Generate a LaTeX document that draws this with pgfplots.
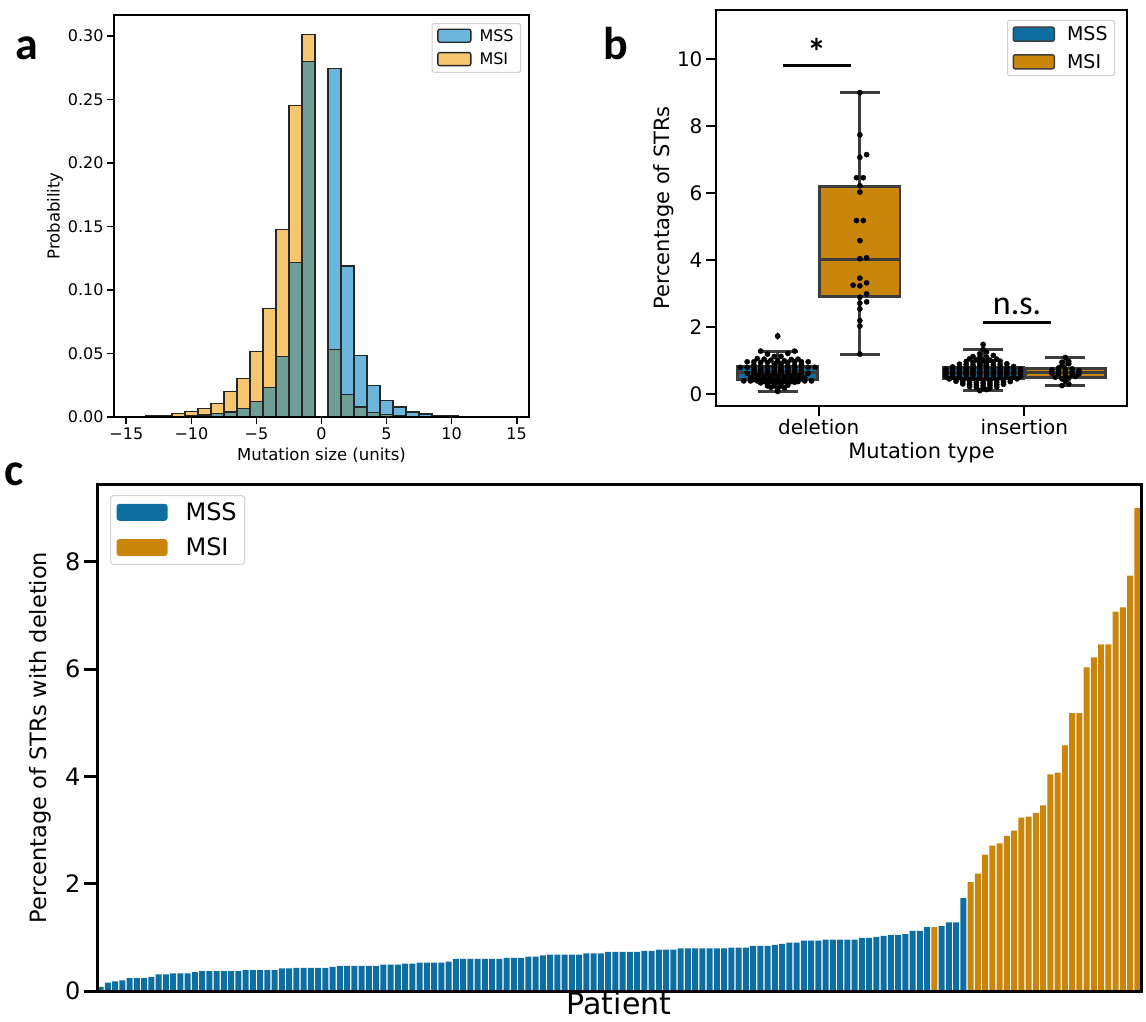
\documentclass[border=0pt]{standalone}
\usepackage{fontspec}
\setmainfont{DejaVu Sans}
\newfontfamily\carlito{Carlito}
\usepackage{pgfplots}
\pgfplotsset{compat=1.18}
\usepgfplotslibrary{statistics}
\usepackage{pgfplotstable}

\definecolor{mssL}{HTML}{6CB6DC}
\definecolor{msiL}{HTML}{F6C671}
\definecolor{ovl}{HTML}{6E9E96}
\definecolor{mssD}{HTML}{0E6EA2}
\definecolor{msiD}{HTML}{CA860A}
\definecolor{boxgray}{HTML}{3D3D3D}
\definecolor{edge}{HTML}{262626}

\newcommand{\fs}[1]{\fontsize{#1}{#1}\selectfont}
\pgfplotsset{/pgf/number format/assume math mode=true}

% panel a: histogram (bin centre, probability)
\pgfplotstableread{
x msi mss ovl
-15 0.0000 0.0001 0.0000
-14 0.0003 0.0002 0.0002
-13 0.0008 0.0003 0.0003
-12 0.0013 0.0004 0.0004
-11 0.0029 0.0006 0.0006
-10 0.0042 0.0009 0.0009
-9  0.0068 0.0017 0.0017
-8  0.0105 0.0027 0.0027
-7  0.0202 0.0040 0.0040
-6  0.0301 0.0069 0.0069
-5  0.0514 0.0121 0.0121
-4  0.0857 0.0233 0.0233
-3  0.1476 0.0477 0.0477
-2  0.2454 0.1216 0.1216
-1  0.3015 0.2798 0.2798
1   0.0529 0.2743 0.0529
2   0.0178 0.1190 0.0178
3   0.0079 0.0482 0.0079
4   0.0037 0.0246 0.0037
5   0.0018 0.0131 0.0018
6   0.0010 0.0079 0.0010
7   0.0005 0.0039 0.0005
8   0.0003 0.0024 0.0003
9   0.0002 0.0010 0.0002
10  0.0002 0.0008 0.0002
11  0.0001 0.0005 0.0001
12  0.0000 0.0002 0.0000
13  0.0000 0.0001 0.0000
14  0.0000 0.0001 0.0000
}\histdata

% panel c: per-patient deletion percentage
\pgfplotstableread[row sep=\\]{
x y\\
0 0.075\\ 1 0.155\\ 2 0.18\\ 3 0.20\\ 4 0.24\\ 5 0.24\\ 6 0.24\\ 7 0.26\\ 8 0.31\\ 9 0.31\\
10 0.33\\ 11 0.33\\ 12 0.33\\ 13 0.35\\ 14 0.37\\ 15 0.37\\ 16 0.37\\ 17 0.37\\ 18 0.37\\ 19 0.37\\
20 0.39\\ 21 0.39\\ 22 0.39\\ 23 0.39\\ 24 0.39\\ 25 0.42\\ 26 0.42\\ 27 0.43\\ 28 0.43\\ 29 0.43\\
30 0.43\\ 31 0.43\\ 32 0.45\\ 33 0.47\\ 34 0.47\\ 35 0.47\\ 36 0.47\\ 37 0.47\\ 38 0.47\\ 39 0.49\\
40 0.49\\ 41 0.49\\ 42 0.51\\ 43 0.51\\ 44 0.53\\ 45 0.53\\ 46 0.53\\ 47 0.53\\ 48 0.55\\ 49 0.60\\
50 0.60\\ 51 0.60\\ 52 0.60\\ 53 0.60\\ 54 0.60\\ 55 0.60\\ 56 0.62\\ 57 0.62\\ 58 0.62\\ 59 0.64\\
60 0.64\\ 61 0.665\\ 62 0.68\\ 63 0.68\\ 64 0.68\\ 65 0.68\\ 66 0.68\\ 67 0.70\\ 68 0.70\\ 69 0.70\\
70 0.73\\ 71 0.73\\ 72 0.73\\ 73 0.73\\ 74 0.73\\ 75 0.75\\ 76 0.75\\ 77 0.77\\ 78 0.77\\ 79 0.77\\
80 0.795\\ 81 0.795\\ 82 0.795\\ 83 0.795\\ 84 0.795\\ 85 0.795\\ 86 0.795\\ 87 0.81\\ 88 0.81\\ 89 0.81\\
90 0.84\\ 91 0.84\\ 92 0.84\\ 93 0.86\\ 94 0.88\\ 95 0.90\\ 96 0.90\\ 97 0.94\\ 98 0.94\\ 99 0.94\\
100 0.96\\ 101 0.96\\ 102 0.96\\ 103 0.96\\ 104 0.96\\ 105 0.99\\ 106 0.99\\ 107 1.01\\ 108 1.03\\ 109 1.04\\
110 1.04\\ 111 1.06\\ 112 1.12\\ 113 1.12\\ 114 1.19\\ 116 1.21\\ 117 1.28\\ 118 1.28\\ 119 1.73\\
}\patMSS
\pgfplotstableread[row sep=\\]{
x y\\
115 1.19\\ 120 2.03\\ 121 2.19\\ 122 2.54\\ 123 2.71\\ 124 2.75\\ 125 2.89\\ 126 2.99\\ 127 3.23\\
128 3.25\\ 129 3.32\\ 130 3.46\\ 131 4.04\\ 132 4.07\\ 133 4.58\\ 134 5.18\\ 135 5.18\\ 136 6.03\\
137 6.22\\ 138 6.46\\ 139 6.46\\ 140 7.07\\ 141 7.15\\ 142 7.74\\ 143 9.00\\
}\patMSI

% panel b: swarm points (k = sideways slot, y = percentage)
\pgfplotstableread[row sep=\\]{
k y\\
0 0.075\\
0 0.155\\ 1 0.18\\ -1 0.20\\
-0.5 0.24\\ 0.5 0.24\\ -1.5 0.24\\ 1.5 0.26\\
-0.5 0.31\\ 0.5 0.31\\ -1.5 0.33\\ 1.5 0.33\\ -2.5 0.33\\ 2.5 0.35\\
0 0.37\\ 1 0.37\\ -1 0.37\\ 2 0.37\\ -2 0.37\\ 3 0.37\\ -3 0.39\\ 4 0.39\\ -4 0.39\\ 5 0.39\\ -5 0.39\\
-0.5 0.42\\ 0.5 0.42\\ -1.5 0.43\\ 1.5 0.43\\ -2.5 0.43\\ 2.5 0.43\\ -3.5 0.43\\ 3.5 0.45\\
0 0.47\\ 1 0.47\\ -1 0.47\\ 2 0.47\\ -2 0.47\\ 3 0.47\\ -3 0.49\\ 4 0.49\\ -4 0.49\\
0 0.51\\ 1 0.51\\ -1 0.53\\ 2 0.53\\ -2 0.53\\ 3 0.53\\ -3 0.55\\
-0.5 0.60\\ 0.5 0.60\\ -1.5 0.60\\ 1.5 0.60\\ -2.5 0.60\\ 2.5 0.60\\ -3.5 0.60\\ 3.5 0.62\\ -4.5 0.62\\ 4.5 0.62\\
-0.5 0.64\\ 0.5 0.64\\ -1.5 0.665\\ 1.5 0.68\\ -2.5 0.68\\ 2.5 0.68\\ -3.5 0.68\\ 3.5 0.68\\
-0.5 0.70\\ 0.5 0.70\\ -1.5 0.70\\ 1.5 0.73\\ -2.5 0.73\\ 2.5 0.73\\ -3.5 0.73\\ 3.5 0.73\\
-0.5 0.75\\ 0.5 0.75\\ -1.5 0.77\\ 1.5 0.77\\ -2.5 0.77\\ 2.5 0.795\\ -3.5 0.795\\ 3.5 0.795\\ -4.5 0.795\\ 4.5 0.795\\ -5.5 0.795\\ 5.5 0.795\\
-0.5 0.81\\ 0.5 0.81\\ -1.5 0.81\\ 1.5 0.84\\ -2.5 0.84\\ 2.5 0.84\\ -3.5 0.86\\ 3.5 0.88\\
-0.5 0.90\\ 0.5 0.90\\ -1.5 0.94\\ 1.5 0.94\\ -2.5 0.94\\ 2.5 0.96\\ -3.5 0.96\\ 3.5 0.96\\ -4.5 0.96\\ 4.5 0.96\\
0 0.99\\ 1 0.99\\ -1 1.01\\ 2 1.03\\ -2 1.04\\ 3 1.04\\ -3 1.06\\
-0.5 1.12\\ 0.5 1.12\\ -1.5 1.19\\ 1.5 1.21\\ -2.5 1.28\\ 2.5 1.28\\
0 1.73\\
}\swMSSdel
\pgfplotstableread[row sep=\\]{
k y\\
0 1.19\\ 0 2.03\\ 0 2.19\\ 0 2.54\\ 0 2.71\\ 1 2.75\\ 0 2.89\\ 1 2.99\\ 0 3.23\\ -1 3.25\\
1 3.32\\ 0 3.46\\ 0 4.04\\ 1 4.07\\ 0 4.58\\ -0.5 5.18\\ 0.5 5.18\\ 0 6.03\\ 0 6.22\\
-0.5 6.46\\ 0.5 6.46\\ 0 7.07\\ 1 7.15\\ 0 7.74\\ 0 9.00\\
}\swMSIdel
\pgfplotstableread[row sep=\\]{
k y\\
-0.5 0.10\\ 0.5 0.13\\
0 0.17\\ 1 0.18\\ -1 0.20\\ 2 0.21\\ -2 0.22\\
0 0.25\\ 1 0.26\\ -1 0.27\\ 2 0.28\\ -2 0.28\\ 3 0.29\\ -3 0.30\\
0 0.33\\ 1 0.33\\ -1 0.34\\ 2 0.35\\ -2 0.35\\ 3 0.36\\ -3 0.37\\ 4 0.37\\ -4 0.38\\
0 0.40\\ 1 0.40\\ -1 0.41\\ 2 0.42\\ -2 0.42\\ 3 0.43\\ -3 0.43\\ 4 0.44\\ -4 0.44\\ 5 0.45\\ -5 0.45\\
-0.5 0.47\\ 0.5 0.47\\ -1.5 0.47\\ 1.5 0.48\\ -2.5 0.48\\ 2.5 0.49\\ -3.5 0.49\\ 3.5 0.50\\ -4.5 0.50\\ 4.5 0.51\\ -5.5 0.52\\ 5.5 0.52\\
-0.5 0.55\\ 0.5 0.55\\ -1.5 0.56\\ 1.5 0.56\\ -2.5 0.57\\ 2.5 0.57\\ -3.5 0.58\\ 3.5 0.58\\ -4.5 0.59\\ 4.5 0.59\\ -5.5 0.60\\ 5.5 0.60\\
-0.5 0.62\\ 0.5 0.62\\ -1.5 0.63\\ 1.5 0.63\\ -2.5 0.64\\ 2.5 0.64\\ -3.5 0.65\\ 3.5 0.65\\ -4.5 0.66\\ 4.5 0.66\\ -5.5 0.67\\ 5.5 0.67\\
-0.5 0.70\\ 0.5 0.70\\ -1.5 0.71\\ 1.5 0.71\\ -2.5 0.72\\ 2.5 0.72\\ -3.5 0.73\\ 3.5 0.73\\ -4.5 0.74\\ 4.5 0.74\\ -5.5 0.75\\ 5.5 0.75\\
-0.5 0.77\\ 0.5 0.77\\ -1.5 0.78\\ 1.5 0.78\\ -2.5 0.79\\ 2.5 0.79\\ -3.5 0.80\\ 3.5 0.80\\ -4.5 0.81\\ 4.5 0.82\\
-0.5 0.85\\ 0.5 0.86\\ -1.5 0.86\\ 1.5 0.87\\ -2.5 0.88\\ 2.5 0.88\\ -3.5 0.89\\ 3.5 0.90\\
-0.5 0.93\\ 0.5 0.94\\ -1.5 0.95\\ 1.5 0.96\\ -2.5 0.97\\ 2.5 0.98\\
0 1.00\\ 1 1.01\\ -1 1.02\\ 2 1.04\\ -2 1.05\\
-0.5 1.08\\ 0.5 1.10\\ -1.5 1.12\\ 1.5 1.15\\
-0.5 1.20\\ 0.5 1.25\\
0 1.33\\ 0 1.48\\
}\swMSSins
\pgfplotstableread[row sep=\\]{
k y\\
-0.5 0.25\\ 0.5 0.30\\ 0 0.38\\ -0.5 0.45\\ 0.5 0.47\\ -1.5 0.50\\ 1.5 0.52\\ 0 0.55\\ 1 0.57\\
-1 0.58\\ 2 0.60\\ -2 0.62\\ 0 0.65\\ 1 0.66\\ -1 0.68\\ 2 0.70\\ -2 0.72\\ 0 0.74\\ 1 0.75\\
-1 0.78\\ -0.5 0.85\\ 0.5 0.90\\ -0.5 0.95\\ 0.5 0.97\\ 0 1.09\\
}\swMSIins

\begin{document}
\begin{tikzpicture}
\path[use as bounding box] (0,0) rectangle (1146pt,-1021pt);

% ---------------- panel a ----------------
\begin{axis}[
  at={(114pt,-417pt)}, anchor=south west,
  scale only axis, width=415pt, height=402pt,
  xmin=-15.95, xmax=15.95, ymin=0, ymax=0.3166,
  xtick={-15,-10,-5,0,5,10,15},
  xticklabels={−15,−10,−5,0,5,10,15},
  ytick={0,0.05,0.1,0.15,0.2,0.25,0.3},
  yticklabels={0.00,0.05,0.10,0.15,0.20,0.25,0.30},
  tick align=outside, tick pos=left, major tick length=7pt,
  tick style={line width=1.8pt, black},
  axis line style={line width=2pt},
  axis on top,
  tick label style={font=\fs{16}},
  xlabel={Mutation size (units)}, ylabel={Probability},
  label style={font=\fs{16.5}},
  every axis y label/.append style={at={(axis description cs:-0.142,0.5)}, anchor=center},
  every axis x label/.append style={at={(axis description cs:0.5,-0.095)}, anchor=center},
  legend style={at={(axis description cs:0.981,0.980)}, anchor=north east,
    draw=black!18, rounded corners=2pt, font=\fs{16}, line width=1pt,
    inner xsep=5pt, inner ysep=4pt, row sep=6pt, column sep=6pt,
    cells={anchor=west}},
  legend image code/.code={\draw[#1] (0pt,-6pt) rectangle (33pt,7pt);},
]
\addlegendimage{fill=mssL, draw=edge, line width=1.3pt}
\addlegendentry{MSS}
\addlegendimage{fill=msiL, draw=edge, line width=1.3pt}
\addlegendentry{MSI}
\addplot[ybar, bar width=1, bar shift=0pt, fill=msiL, draw=edge, line width=1.3pt, forget plot]
  table[x=x, y=msi] {\histdata};
\addplot[ybar, bar width=1, bar shift=0pt, fill=mssL, draw=edge, line width=1.3pt, forget plot]
  table[x=x, y=mss] {\histdata};
\addplot[ybar, bar width=1, bar shift=0pt, fill=ovl, draw=edge, line width=1.3pt, forget plot]
  table[x=x, y=ovl] {\histdata};
\end{axis}

% ---------------- panel b ----------------
\begin{axis}[
  at={(716pt,-406pt)}, anchor=south west,
  scale only axis, width=411pt, height=396pt,
  xmin=-0.5, xmax=1.5, ymin=-0.36, ymax=11.47,
  xtick={0,1}, xticklabels={deletion,insertion},
  ytick={0,2,4,6,8,10},
  tick align=outside, tick pos=left, major tick length=10pt,
  tick style={line width=2.4pt, black},
  axis line style={line width=2.6pt},
  axis on top,
  tick label style={font=\fs{20}},
  xlabel={Mutation type}, ylabel={Percentage of STRs},
  label style={font=\fs{21}},
  every axis y label/.append style={at={(axis description cs:-0.127,0.5)}, anchor=center},
  every axis x label/.append style={at={(axis description cs:0.5,-0.119)}, anchor=center},
  boxplot/draw direction=y,
  boxplot/every box/.style={draw=boxgray, line width=2.8pt},
  boxplot/every median/.style={draw=boxgray, line width=2.8pt},
  legend style={at={(axis description cs:0.971,0.975)}, anchor=north east,
    draw=black!18, rounded corners=2pt, font=\fs{19}, line width=1pt,
    inner xsep=5pt, inner ysep=4pt, row sep=8pt, column sep=10pt,
    cells={anchor=west}},
  legend image code/.code={\draw[#1] (0pt,-7pt) rectangle (41pt,7pt);},
]
\addlegendimage{fill=mssD, draw=boxgray, line width=1.5pt}
\addlegendentry{MSS}
\addlegendimage{fill=msiD, draw=boxgray, line width=1.5pt}
\addlegendentry{MSI}
% whiskers with caps
\draw[boxgray, line width=3pt]
  (axis cs:-0.2,0.81) -- (axis cs:-0.2,1.28) (axis cs:-0.2975,1.28) -- (axis cs:-0.1025,1.28)
  (axis cs:-0.2,0.43) -- (axis cs:-0.2,0.075) (axis cs:-0.2975,0.075) -- (axis cs:-0.1025,0.075)
  (axis cs:0.2,6.2) -- (axis cs:0.2,9.0) (axis cs:0.1025,9.0) -- (axis cs:0.2975,9.0)
  (axis cs:0.2,2.91) -- (axis cs:0.2,1.19) (axis cs:0.1025,1.19) -- (axis cs:0.2975,1.19)
  (axis cs:0.8,0.80) -- (axis cs:0.8,1.33) (axis cs:0.7025,1.33) -- (axis cs:0.8975,1.33)
  (axis cs:0.8,0.45) -- (axis cs:0.8,0.10) (axis cs:0.7025,0.10) -- (axis cs:0.8975,0.10)
  (axis cs:1.2,0.75) -- (axis cs:1.2,1.09) (axis cs:1.1025,1.09) -- (axis cs:1.2975,1.09)
  (axis cs:1.2,0.50) -- (axis cs:1.2,0.25) (axis cs:1.1025,0.25) -- (axis cs:1.2975,0.25);
\addplot[forget plot, boxplot prepared={lower whisker=0.075, lower quartile=0.43,
  median=0.64, upper quartile=0.81, upper whisker=1.28,
  draw position=-0.2, box extend=0.39, whisker extend=0.195},
  draw=boxgray, fill=mssD, line width=2.8pt] coordinates {};
\addplot[forget plot, boxplot prepared={lower whisker=1.19, lower quartile=2.91,
  median=4.02, upper quartile=6.2, upper whisker=9.0,
  draw position=0.2, box extend=0.39, whisker extend=0.195},
  draw=boxgray, fill=msiD, line width=2.8pt] coordinates {};
\addplot[forget plot, boxplot prepared={lower whisker=0.10, lower quartile=0.45,
  median=0.64, upper quartile=0.80, upper whisker=1.33,
  draw position=0.8, box extend=0.39, whisker extend=0.195},
  draw=boxgray, fill=mssD, line width=2.8pt] coordinates {};
\addplot[forget plot, boxplot prepared={lower whisker=0.25, lower quartile=0.50,
  median=0.65, upper quartile=0.75, upper whisker=1.09,
  draw position=1.2, box extend=0.39, whisker extend=0.195},
  draw=boxgray, fill=msiD, line width=2.8pt] coordinates {};
\addplot[forget plot, only marks, mark=diamond*, mark size=3.5pt, boxgray]
  coordinates {(-0.2,1.73)};
\addplot[forget plot, only marks, mark=*, mark size=2.6pt, black]
  table[x expr={-0.2+0.033*\thisrow{k}}, y=y] {\swMSSdel};
\addplot[forget plot, only marks, mark=*, mark size=2.6pt, black]
  table[x expr={0.2+0.033*\thisrow{k}}, y=y] {\swMSIdel};
\addplot[forget plot, only marks, mark=*, mark size=2.6pt, black]
  table[x expr={0.8+0.033*\thisrow{k}}, y=y] {\swMSSins};
\addplot[forget plot, only marks, mark=*, mark size=2.6pt, black]
  table[x expr={1.2+0.033*\thisrow{k}}, y=y] {\swMSIins};
\draw[line width=3pt] (axis cs:-0.176,9.81) -- (axis cs:0.156,9.81);
\node[font=\carlito\bfseries\fs{38}, anchor=base] at (axis cs:-0.01,9.80) {*};
\draw[line width=3pt] (axis cs:0.80,2.13) -- (axis cs:1.131,2.13);
\node[font=\carlito\fs{34}, anchor=base] at (axis cs:0.965,2.36) {n.s.};
\end{axis}

% ---------------- panel c ----------------
\begin{axis}[
  at={(97pt,-991pt)}, anchor=south west,
  scale only axis, width=1044pt, height=507pt,
  xmin=-0.5, xmax=143.5, ymin=0, ymax=9.45,
  xtick=\empty, ytick={0,2,4,6,8},
  tick align=outside, tick pos=left, major tick length=13pt,
  tick style={line width=3pt, black},
  axis line style={line width=3pt},
  axis on top,
  tick label style={font=\fs{24}},
  xlabel={Patient}, ylabel={Percentage of STRs with deletion},
  xlabel style={font=\fs{30}}, ylabel style={font=\fs{22.5}},
  every axis y label/.append style={at={(axis description cs:-0.0546,0.5)}, anchor=center},
  every axis x label/.append style={at={(axis description cs:0.5,-0.0245)}, anchor=center},
  legend style={at={(axis description cs:0.0125,0.978)}, anchor=north west,
    draw=black!18, rounded corners=3pt, font=\fs{24}, line width=1pt,
    inner xsep=6pt, inner ysep=5pt, row sep=12pt, column sep=16pt,
    cells={anchor=west}},
  legend image code/.code={\fill[#1, draw=none] (0pt,-8.5pt) rectangle (51pt,8.5pt);},
]
\addlegendimage{fill=mssD, draw=none}
\addlegendentry{MSS}
\addlegendimage{fill=msiD, draw=none}
\addlegendentry{MSI}
\addplot[ybar, bar width=0.8, bar shift=0pt, fill=mssD, draw=none, forget plot]
  table[x=x, y=y] {\patMSS};
\addplot[ybar, bar width=0.8, bar shift=0pt, fill=msiD, draw=none, forget plot]
  table[x=x, y=y] {\patMSI};
\end{axis}

% panel letters
\node[font=\carlito\bfseries\fs{46}] at (27pt,-48pt) {a};
\node[font=\carlito\bfseries\fs{46}] at (616pt,-44pt) {b};
\node[font=\carlito\bfseries\fs{46}] at (14pt,-474pt) {c};
\end{tikzpicture}
\end{document}
